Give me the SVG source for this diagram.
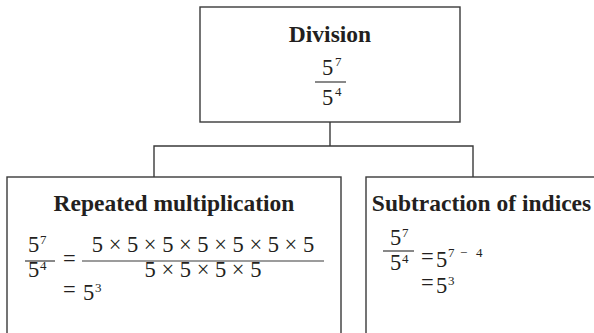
<svg xmlns="http://www.w3.org/2000/svg" width="594" height="333" viewBox="0 0 594 333">
<style>
.box{fill:#ffffff;stroke:#3a3a3a;stroke-width:1.4}
.con{fill:none;stroke:#3a3a3a;stroke-width:1.4}
.bar{stroke:#3a3a3a;stroke-width:1.2}
text{font-family:"Liberation Serif","Times New Roman",serif;fill:#231f20}
.t{font-weight:bold;font-size:23.5px;text-anchor:middle}
.m{font-size:22.5px}
.s{font-size:13px}
.mc{font-size:22.5px;text-anchor:middle}
</style>
<rect width="594" height="333" fill="#ffffff"/>
<g id="connectors">
<polyline class="con" points="330,122 330,146"/>
<polyline class="con" points="154,177 154,146 473,146 473,177"/>
</g>
<g id="division">
<rect class="box" x="200" y="7" width="260" height="115"/>
<text class="t" x="330" y="42">Division</text>
<text class="m" x="322" y="75">5</text><text class="s" x="335" y="66">7</text>
<line class="bar" x1="315" y1="82" x2="346" y2="82"/>
<text class="m" x="322" y="105">5</text><text class="s" x="335" y="96">4</text>
</g>
<g id="repeated">
<rect class="box" x="7" y="177" width="334" height="170"/>
<text class="t" x="174" y="210.5">Repeated multiplication</text>
<text class="m" x="28" y="252">5</text><text class="s" x="40" y="244">7</text>
<line class="bar" x1="25" y1="261" x2="55" y2="261"/>
<text class="m" x="28" y="277">5</text><text class="s" x="40" y="270">4</text>
<text class="m" x="63" y="266">=</text>
<text class="mc" x="203" y="252">5 × 5 × 5 × 5 × 5 × 5 × 5</text>
<line class="bar" x1="82" y1="261" x2="324" y2="261"/>
<text class="mc" x="203" y="277">5 × 5 × 5 × 5</text>
<text class="m" x="63" y="297">=</text>
<text class="m" x="83" y="300">5</text><text class="s" x="95" y="292">3</text>
</g>
<g id="subtraction">
<rect class="box" x="366" y="177" width="240" height="170"/>
<text class="t" x="481.5" y="211">Subtraction of indices</text>
<text class="m" x="390" y="245">5</text><text class="s" x="402" y="237">7</text>
<line class="bar" x1="383" y1="251" x2="414" y2="251"/>
<text class="m" x="390" y="270">5</text><text class="s" x="402" y="263">4</text>
<text class="m" x="421" y="264">=</text>
<text class="m" x="436" y="267">5</text>
<text class="s" y="257"><tspan x="448">7</tspan><tspan x="460">−</tspan><tspan x="476">4</tspan></text>
<text class="m" x="421" y="290">=</text>
<text class="m" x="436" y="293">5</text><text class="s" x="448" y="285">3</text>
</g>
</svg>
